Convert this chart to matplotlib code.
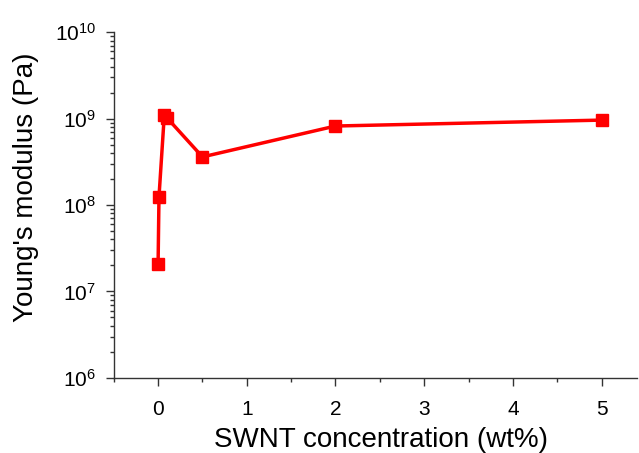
import matplotlib
matplotlib.use("Agg")
import matplotlib.pyplot as plt
from matplotlib.ticker import LogLocator, MultipleLocator

plt.rcParams['font.family'] = ['Liberation Sans', 'DejaVu Sans']
plt.rcParams['mathtext.fontset'] = 'custom'
plt.rcParams['mathtext.rm'] = 'Liberation Sans'
plt.rcParams['mathtext.default'] = 'regular'

conc = [0.0, 0.01, 0.07, 0.1, 0.5, 2.0, 5.0]
modulus = [2.08e7, 1.24e8, 1.1e9, 1.02e9, 3.6e8, 8.2e8, 9.6e8]
xticks = [0, 1, 2, 3, 4, 5]
ydecades = [6, 7, 8, 9, 10]

fig = plt.figure(figsize=(6.39, 4.53), dpi=100)
ax = fig.add_axes([0.178, 0.166, 0.819, 0.763])
ax.plot(conc, modulus, color='#ff0000', lw=2.5, marker='s', ms=8,
        markeredgecolor='#ff0000', markerfacecolor='#ff0000')
ax.set_yscale('log')
ax.set_ylim(1e6, 1e10)
ax.set_xlim(-0.5, 5.4)
ax.set_yticks([10.0**d for d in ydecades])
ax.set_yticklabels([r'$10^{%d}$' % d for d in ydecades])
ax.yaxis.set_minor_locator(LogLocator(base=10, subs=range(2, 10)))
ax.yaxis.set_minor_formatter(plt.NullFormatter())
ax.set_xticks(xticks)
ax.set_xticklabels([str(t) for t in xticks])
ax.xaxis.set_minor_locator(MultipleLocator(0.5))
for s in ['top', 'right']:
    ax.spines[s].set_visible(False)
for s in ['left', 'bottom']:
    ax.spines[s].set_linewidth(1.0)
    ax.spines[s].set_color('#333333')
ax.tick_params(which='major', direction='out', length=6, width=1, labelsize=15, color='#333333')
ax.tick_params(axis='x', which='major', pad=10)
ax.tick_params(axis='y', which='major', pad=7)
ax.tick_params(which='minor', direction='out', length=3, width=1, color='#333333')
ax.set_xlabel('SWNT concentration (wt%)', fontsize=20)
ax.set_ylabel("Young's modulus (Pa)", fontsize=20)
ax.xaxis.set_label_coords(0.511, -0.143)
ax.yaxis.set_label_coords(-0.142, 0.552)
fig.savefig('out.png', dpi=100)
